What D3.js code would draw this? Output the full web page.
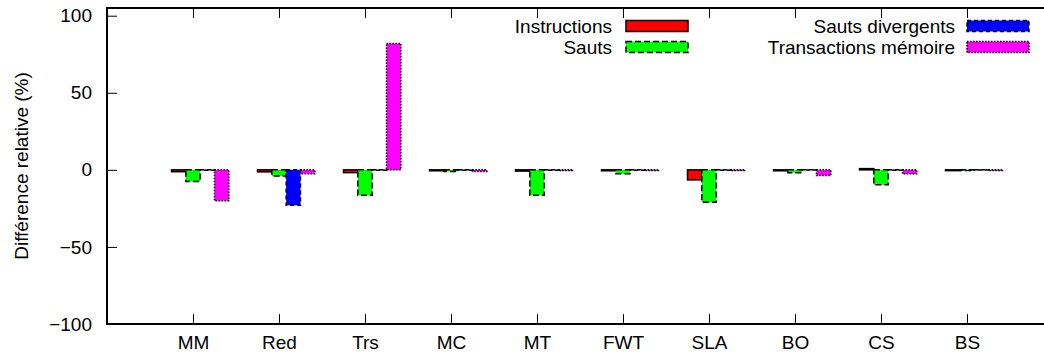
<!DOCTYPE html>
<html>
<head>
<meta charset="utf-8">
<script src="https://cdn.jsdelivr.net/npm/d3@7"></script>
<style>
  html, body { margin: 0; padding: 0; background: #fff; overflow: hidden; }
  svg { display: block; }
  text { font-family: "Liberation Sans", Arial, Helvetica, sans-serif; fill: #000; }
</style>
</head>
<body>
<svg id="chart" width="1044" height="354"></svg>
<script>
// Benchmarks on the x axis
const categories = ["MM", "Red", "Trs", "MC", "MT", "FWT", "SLA", "BO", "CS", "BS"];

// Relative difference (%) per benchmark, one array per metric
const instructions   = [-1.2, -1.3, -1.8, -0.6, -0.8, -0.6, -6.5, -0.6, 0.8, -0.5];
const sauts          = [-7.5, -4.0, -16.5, -1.0, -16.5, -2.5, -21.0, -1.8, -9.7, -0.5];
const sautsDivergent = [-0.2, -23.0, -0.2, -0.2, -0.2, -0.2, -0.2, -0.1, -0.2, -0.1];
const transactions   = [-20.0, -2.5, 82.0, -1.0, -0.5, -0.5, -0.5, -3.7, -2.6, -0.5];

// Series names as shown in the key
const seriesNames = ["Instructions", "Sauts", "Sauts divergents", "Transactions mémoire"];

// Y axis ticks
const yTicks = [-100, -50, 0, 50, 100];
const yLabel = "Différence relative (%)";

const seriesValues = [instructions, sauts, sautsDivergent, transactions];
const seriesStyle = [
  { fill: "#ff0000", dash: null },
  { fill: "#00ff00", dash: "6,3" },
  { fill: "#0000ff", dash: "4,3" },
  { fill: "#ff00ff", dash: "1.5,1.5" }
];

const W = 1044;
const svg = d3.select("#chart");
const plot = { left: 107, right: 1053, top: 8, bottom: 324 };

// Histogram slots: one unit per benchmark, plot spans -1 .. n
const x = d3.scaleLinear().domain([-1, categories.length]).range([plot.left, plot.right]);
const y = d3.scaleLinear().domain([-100, 105]).range([plot.bottom, plot.top]);
const unit = x(1) - x(0);
const barW = unit / 6;  // 4 bars + gap of 2

// Bars
const bars = svg.append("g");
seriesValues.forEach((vals, j) => {
  const st = seriesStyle[j];
  bars.selectAll(null)
    .data(vals)
    .enter()
    .append("rect")
    .attr("x", (d, i) => x(i) + (j - 1.5) * barW)
    .attr("width", barW)
    .attr("y", d => Math.min(y(d), y(0)))
    .attr("height", d => Math.abs(y(d) - y(0)))
    .attr("fill", st.fill)
    .attr("stroke", "#000")
    .attr("stroke-width", 1.5)
    .attr("stroke-dasharray", st.dash);
});

const fmt = v => (v < 0 ? "\u2212" + Math.abs(v) : String(v));

// Y axis (ticks point inward)
svg.append("g")
  .attr("transform", `translate(${plot.left},0)`)
  .call(d3.axisLeft(y).tickValues(yTicks).tickSizeInner(-10).tickSizeOuter(0).tickPadding(15).tickFormat(fmt));

// X axis at the bottom with mirrored ticks at the top
const xIdx = d3.range(categories.length);
svg.append("g")
  .attr("transform", `translate(0,${plot.bottom})`)
  .call(d3.axisBottom(x).tickValues(xIdx).tickSizeInner(-10).tickSizeOuter(0).tickPadding(12).tickFormat(i => categories[i]));
svg.append("g")
  .attr("transform", `translate(0,${plot.top})`)
  .call(d3.axisTop(x).tickValues(xIdx).tickSizeInner(-10).tickSizeOuter(0).tickFormat(""));

svg.selectAll(".domain").remove();
svg.selectAll(".tick line").attr("stroke", "#000").attr("stroke-width", 1);
svg.selectAll(".tick text").style("font-size", "19px").attr("fill", "#000");

// Frame: left, top and bottom edges (right edge lies past the view)
svg.append("path")
  .attr("d", `M${W + 2},${plot.top}H${plot.left}V${plot.bottom}H${W + 2}`)
  .attr("fill", "none").attr("stroke", "#000").attr("stroke-width", 2);

// Y label
svg.append("text")
  .attr("transform", `translate(21,${(plot.top + plot.bottom) / 2}) rotate(-90)`)
  .attr("text-anchor", "middle")
  .attr("dominant-baseline", "central")
  .style("font-size", "19px")
  .text(yLabel);

// Key: two columns, two rows
const keyCols = [{ textX: 612, boxX: 626 }, { textX: 955, boxX: 967 }];
const keyRows = [26, 47];
const boxW = 62, boxH = 11;
const keyOrder = [[0, 0, 0], [1, 0, 1], [2, 1, 0], [3, 1, 1]]; // series, col, row
const key = svg.append("g");
keyOrder.forEach(([s, c, r]) => {
  const col = keyCols[c], cy = keyRows[r];
  key.append("text")
    .attr("x", col.textX).attr("y", cy)
    .attr("text-anchor", "end")
    .attr("dominant-baseline", "central")
    .style("font-size", "19px")
    .text(seriesNames[s]);
  key.append("rect")
    .attr("x", col.boxX).attr("y", cy - boxH / 2)
    .attr("width", boxW).attr("height", boxH)
    .attr("fill", seriesStyle[s].fill)
    .attr("stroke", "#000").attr("stroke-width", 1.5)
    .attr("stroke-dasharray", seriesStyle[s].dash);
});
</script>
</body>
</html>
